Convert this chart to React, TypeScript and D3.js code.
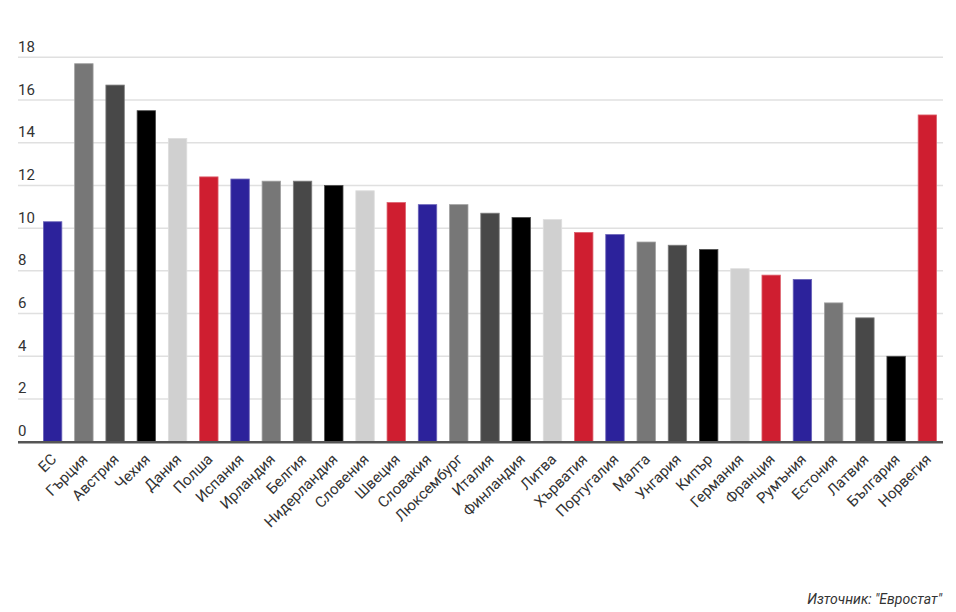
import React from "react";
import * as d3 from "d3";

const countries = [
  "ЕС", "Гърция", "Австрия", "Чехия", "Дания", "Полша", "Испания", "Ирландия",
  "Белгия", "Нидерландия", "Словения", "Швеция", "Словакия", "Люксембург",
  "Италия", "Финландия", "Литва", "Хърватия", "Португалия", "Малта", "Унгария",
  "Кипър", "Германия", "Франция", "Румъния", "Естония", "Латвия", "България", "Норвегия",
];
const values = [
  10.3, 17.7, 16.7, 15.5, 14.2, 12.4, 12.3, 12.2, 12.2, 12.0, 11.75, 11.2, 11.1, 11.1,
  10.7, 10.5, 10.4, 9.8, 9.7, 9.35, 9.2, 9.0, 8.1, 7.8, 7.6, 6.5, 5.8, 4.0, 15.3,
];
const yTicks = [0, 2, 4, 6, 8, 10, 12, 14, 16, 18];
const sourceText = "Източник: \"Евростат\"";

// colour group per bar
const colorGroups = [
  "blue", "gray", "dark", "black", "light", "red",
  "blue", "gray", "dark", "black", "light", "red",
  "blue", "gray", "dark", "black", "light", "red",
  "blue", "gray", "dark", "black", "light", "red",
  "blue", "gray", "dark", "black", "red",
];

const palette: Record<string, string> = {
  blue: "#2c229b",
  gray: "#777777",
  dark: "#484848",
  black: "#000000",
  light: "#d0d0d0",
  red: "#cf1e30",
};

const W = 956;
const H = 612;

export default function App() {
  const x = d3
    .scaleBand<string>()
    .domain(countries)
    .range([37, 943])
    .paddingInner(0.41)
    .paddingOuter(0.205);
  const y = d3.scaleLinear().domain([0, 18]).range([441.7, 57.3]);
  const font = "Roboto, 'Noto Sans', sans-serif";

  return (
    <div style={{ position: "absolute", left: 0, top: 0 }}>
      <svg width={W} height={H} style={{ display: "block", background: "#fff" }}>
        {yTicks.map((t) => (
          <g key={t}>
            {t !== 0 && (
              <line x1={18} x2={943} y1={y(t)} y2={y(t)} stroke="#e0e0e0" strokeWidth={1.5} />
            )}
            <text x={18} y={y(t) - 5.5} fontFamily={font} fontSize={15} fill="#333">
              {t}
            </text>
          </g>
        ))}
        {countries.map((c, i) => {
          const col = palette[colorGroups[i]];
          const edge = d3.interpolateRgb(col, "#ffffff")(0.3);
          return (
            <rect
              key={c}
              x={x(c)}
              y={y(values[i])}
              width={x.bandwidth()}
              height={y(0) - y(values[i])}
              fill={col}
              stroke={edge}
              strokeWidth={0.8}
            />
          );
        })}
        <line x1={18} x2={943} y1={y(0) + 0.5} y2={y(0) + 0.5} stroke="#555" strokeWidth={2.5} />
        {countries.map((c) => {
          const cx = (x(c) as number) + x.bandwidth() / 2;
          return (
            <text
              key={c}
              transform={`translate(${cx + 1},${456.5}) rotate(-45)`}
              textAnchor="end"
              dy="0.35em"
              fontFamily={font}
              fontSize={15}
              fill="#333"
            >
              {c}
            </text>
          );
        })}
        <text
          x={942}
          y={604}
          textAnchor="end"
          fontFamily={font}
          fontStyle="italic"
          fontSize={14}
          fill="#333"
        >
          {sourceText}
        </text>
      </svg>
    </div>
  );
}
